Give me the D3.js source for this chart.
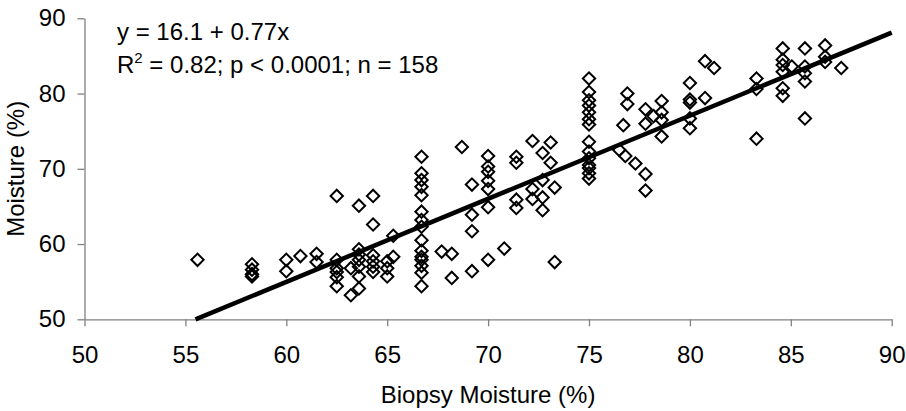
<!DOCTYPE html>
<html>
<head>
<meta charset="utf-8">
<script src="https://cdn.jsdelivr.net/npm/d3@7"></script>
<style>
    body { margin: 0; background: #ffffff; }
    svg { display: block; font-family: "Liberation Sans", Arial, sans-serif; }
</style>
</head>
<body>
<svg id="chart" width="906" height="411"></svg>
<script>
// biopsy moisture (x) and predicted moisture (y)
var biopsyX = [
    55.6,
    58.3, 58.3, 58.3, 58.3,
    60.0, 60.0, 60.7, 61.5, 61.5,
    62.5, 62.5, 62.5, 62.5, 62.5, 62.5,
    63.2, 63.2,
    63.6, 63.6, 63.6, 63.6, 63.6, 63.6, 63.6,
    64.3, 64.3, 64.3, 64.3, 64.3, 64.3,
    65.0, 65.0, 65.0, 65.3, 65.3,
    66.7, 66.7, 66.7, 66.7, 66.7, 66.7, 66.7, 66.7, 66.7, 66.7, 66.7, 66.7, 66.7, 66.7, 66.7,
    67.7, 68.2, 68.2, 68.7,
    69.2, 69.2, 69.2, 69.2,
    70.0, 70.0, 70.0, 70.0, 70.0, 70.0, 70.0,
    70.8,
    71.4, 71.4, 71.4, 71.4,
    72.2, 72.2, 72.2,
    72.7, 72.7, 72.7, 72.7,
    73.1, 73.1, 73.3, 73.3,
    75.0, 75.0, 75.0, 75.0, 75.0, 75.0, 75.0, 75.0, 75.0, 75.0, 75.0, 75.0, 75.0, 75.0,
    76.5, 76.7, 76.9, 76.9, 76.8, 77.3,
    77.8, 77.8, 77.8, 77.8, 78.2,
    78.6, 78.6, 78.6, 78.6,
    80.0, 80.0, 80.0, 80.0, 80.0,
    80.75, 80.75, 81.2,
    83.3, 83.3, 83.3,
    84.6, 84.6, 84.6, 84.6, 84.6, 84.6, 85.05,
    85.7, 85.7, 85.7, 85.7, 85.7,
    86.7, 86.7, 86.7, 87.5
];
var moistureY = [
    57.9,
    57.3, 56.6, 56.0, 55.7,
    57.9, 56.4, 58.4, 58.7, 57.6,
    66.4, 57.9, 56.8, 56.3, 55.6, 54.4,
    56.8, 53.2,
    65.1, 59.3, 58.6, 57.9, 57.0, 55.7, 54.1,
    66.4, 62.6, 58.5, 57.7, 57.0, 56.3,
    57.7, 56.8, 55.7, 58.3, 61.1,
    71.6, 69.4, 68.5, 67.6, 66.5, 64.3, 63.2, 62.3, 60.5, 59.1, 58.3, 57.9, 57.1, 56.2, 54.4,
    59.0, 58.7, 55.5, 72.9,
    67.9, 63.9, 61.7, 56.4,
    71.7, 70.3, 69.6, 68.4, 67.3, 64.9, 57.9,
    59.4,
    71.6, 70.8, 65.9, 64.8,
    73.7, 67.3, 66.0,
    72.1, 68.5, 66.2, 64.5,
    73.5, 70.8, 67.5, 57.6,
    82.0, 80.2, 79.1, 78.4, 77.5, 76.6, 75.9, 73.6, 72.3, 71.4, 70.5, 70.1, 69.4, 68.7,
    72.5, 75.8, 80.0, 78.6, 71.7, 70.7,
    77.9, 76.0, 69.3, 67.1, 77.0,
    79.0, 77.5, 76.5, 74.3,
    81.4, 79.2, 78.8, 76.7, 75.4,
    84.3, 79.4, 83.4,
    82.0, 80.6, 74.0,
    86.0, 84.5, 83.8, 82.9, 80.7, 79.7, 83.6,
    86.0, 83.6, 82.7, 81.6, 76.7,
    86.4, 84.9, 84.2, 83.4
];

// fitted line end points, as drawn
var fitX = [55.5, 90];
var fitY = [50, 88.1];

var xTicks = [50, 55, 60, 65, 70, 75, 80, 85, 90];
var yTicks = [50, 60, 70, 80, 90];

var eqLine1 = "y = 16.1 + 0.77x";
var eqLine2 = " = 0.82; p < 0.0001; n = 158";
var xTitle = "Biopsy Moisture (%)";
var yTitle = "Moisture (%)";

var svg = d3.select("#chart");
var fontSize = 24;

var x = d3.scaleLinear().domain([50, 90]).range([84.5, 891.7]);
var y = d3.scaleLinear().domain([50, 90]).range([319.3, 18.3]);

/*
 * draws both axes with grey lines and ticks
 */
function renderAxes(svg) {
    var xAxis = d3.axisBottom(x)
        .tickValues(xTicks)
        .tickSize(7)
        .tickSizeOuter(0)
        .tickPadding(20);

    var yAxis = d3.axisLeft(y)
        .tickValues(yTicks)
        .tickSize(7)
        .tickSizeOuter(0)
        .tickPadding(12);

    var gx = svg.append("g")
        .attr("transform", "translate(0," + y(50) + ")")
        .call(xAxis);

    var gy = svg.append("g")
        .attr("transform", "translate(" + x(50) + ",0)")
        .call(yAxis);

    [gx, gy].forEach(function(g) {
        g.select(".domain").attr("stroke", "#808080").attr("stroke-width", 1.3);
        g.selectAll(".tick line").attr("stroke", "#808080").attr("stroke-width", 1.3);
        g.selectAll(".tick text")
            .attr("fill", "#000")
            .style("font-size", fontSize + "px")
            .style("font-family", "'Liberation Sans', Arial, sans-serif");
    });

    // axis titles
    svg.append("text")
        .attr("x", (x(50) + x(90)) / 2)
        .attr("y", 403)
        .attr("text-anchor", "middle")
        .style("font-size", fontSize + "px")
        .text(xTitle);

    svg.append("text")
        .attr("transform", "translate(23.5," + (y(50) + y(90)) / 2 + ") rotate(-90)")
        .attr("text-anchor", "middle")
        .style("font-size", fontSize + "px")
        .text(yTitle);

    return svg;
}

/*
 * draws the hollow diamond markers
 */
function renderPoints(svg) {
    var diamond = d3.symbol().type(d3.symbolSquare).size(76);

    svg.append("g")
        .selectAll("path")
        .data(biopsyX)
        .enter().append("path")
        .attr("d", diamond)
        .attr("transform", function(d, i) {
            return "translate(" + x(d) + "," + y(moistureY[i]) + ") rotate(45)";
        })
        .attr("fill", "none")
        .attr("stroke", "#000")
        .attr("stroke-width", 2);

    return svg;
}

/*
 * draws the thick regression line
 */
function renderFit(svg) {
    var line = d3.line()
        .x(function(d) { return x(d); })
        .y(function(d, i) { return y(fitY[i]); });

    svg.append("path")
        .datum(fitX)
        .attr("d", line)
        .attr("fill", "none")
        .attr("stroke", "#000")
        .attr("stroke-width", 4.5);

    return svg;
}

/*
 * equation text in the top left corner
 */
function renderEquation(svg) {
    svg.append("text")
        .attr("x", 117)
        .attr("y", 40)
        .style("font-size", fontSize + "px")
        .text(eqLine1);

    var t = svg.append("text")
        .attr("x", 117)
        .attr("y", 73)
        .style("font-size", fontSize + "px");
    t.append("tspan").text("R");
    t.append("tspan").attr("dy", -10).style("font-size", "15px").text("2");
    t.append("tspan").attr("dy", 10).text(eqLine2);

    return svg;
}

renderAxes(svg);
renderPoints(svg);
renderFit(svg);
renderEquation(svg);
</script>
</body>
</html>
